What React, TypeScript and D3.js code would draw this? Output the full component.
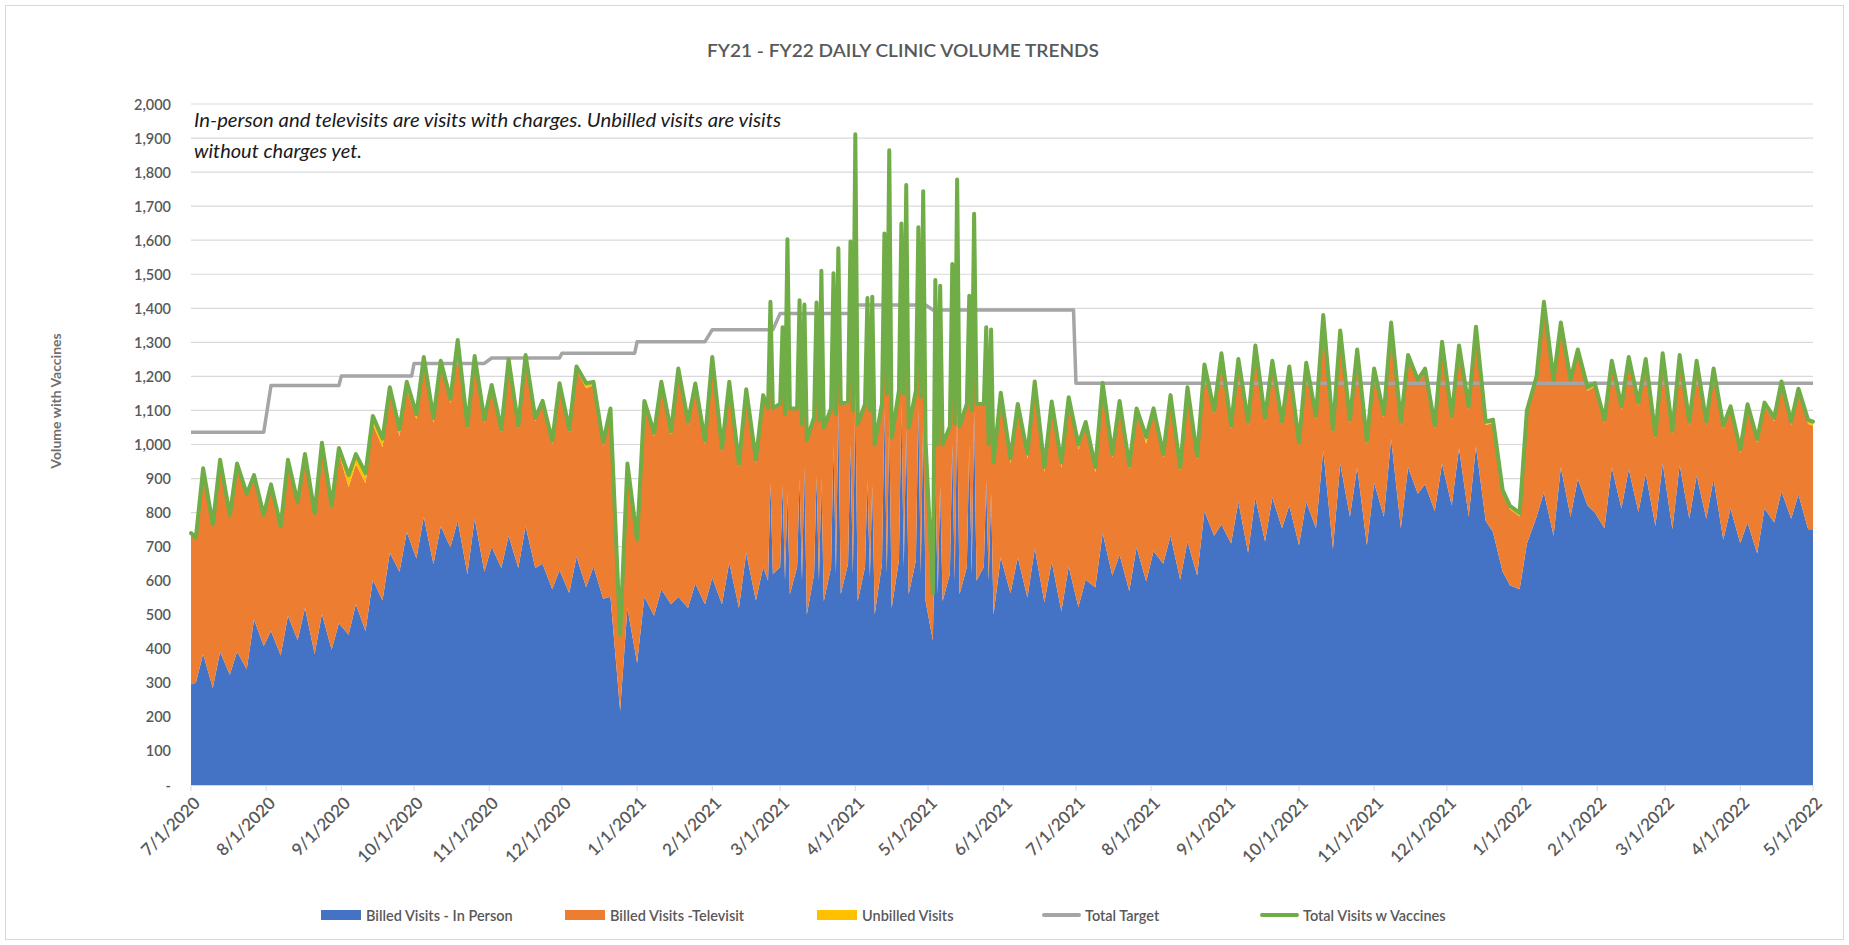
import { useEffect, useRef } from "react";
import * as d3 from "d3";

const W = 1849;
const H = 945;
const START = new Date(2020, 6, 1);
const END = new Date(2022, 4, 1);

// business days (offset from 7/1/2020): Mon peaks / Fri dips,
// plus the Tue/Thu vaccine clinic days of Mar-May 2021
const dayOffsets = [
  0, 2, 5, 9, 12, 16, 19, 23, 26, 30, 33, 37, 40, 44, 47, 51, 54, 58, 61, 65, 68, 72, 75, 79,
  82, 86, 89, 93, 96, 100, 103, 107, 110, 114,
  117, 121, 124, 128, 131, 135, 138, 142, 145, 149, 152, 156, 159, 163, 166, 170, 173, 177,
  180, 184, 187, 191, 194, 198, 201, 205, 208, 212, 215, 219, 222, 226, 229, 233, 236,
  238, 239, 240,
  243, 244, 245, 246, 247, 250, 251, 252, 253, 254, 257, 258, 259, 260, 261,
  264, 265, 266, 267, 268, 271, 272, 273, 274, 275, 278, 279, 280, 281, 282,
  285, 286, 287, 288, 289, 292, 293, 294, 295, 296, 299, 300, 301, 302, 303,
  306, 307, 308, 309, 310, 313, 314, 315, 316, 317, 320, 321, 322, 323, 324,
  327, 328, 329, 330, 331,
  334, 338, 341, 345, 348, 352, 355, 359, 362, 366, 369, 373, 376, 380, 383, 387, 390, 394,
  397, 401, 404, 408, 411, 415, 418, 422, 425, 429, 432, 436, 439, 443, 446, 450, 453, 457,
  460, 464, 467, 471, 474, 478, 481, 485, 488, 492, 495, 499, 502, 506, 509, 513, 516, 520,
  523, 527, 530, 534, 537, 541, 544, 548, 551, 555, 558, 562, 565, 569, 572, 576, 579, 583,
  586, 590, 593, 597, 600, 604, 607, 611, 614, 618, 621, 625, 628, 632, 635, 639, 642, 646,
  649, 653, 656, 660, 663, 667, 669,
];

const inPerson = [
  296, 300, 385, 285, 391, 324, 391, 340, 486, 408, 452, 380, 497, 425, 520, 385, 503, 397,
  475, 441, 531, 452, 603, 542, 682, 626, 743, 665, 788, 648, 760, 698, 776, 620,
  782, 626, 700, 637, 732, 637, 760, 637, 650, 575, 631, 564, 670, 581, 642, 547, 553, 218,
  520, 358, 553, 497, 575, 531, 553, 520, 592, 531, 609, 531, 654, 520, 682, 542, 640,
  600, 888, 620,
  640, 881, 600, 860, 560, 640, 900, 600, 934, 500, 620, 907, 600, 900, 540,
  640, 1000, 620, 1106, 560, 650, 1000, 620, 1152, 540, 640, 894, 610, 880, 500,
  650, 1106, 620, 1080, 520, 660, 1119, 640, 1050, 560, 660, 1106, 620, 1080, 540,
  424, 900, 560, 880, 540, 620, 1000, 600, 1100, 560, 640, 1000, 620, 1100, 600,
  640, 894, 600, 860, 500,
  669, 563, 669, 550, 695, 536, 656, 510, 642, 523, 603, 580, 740, 615, 676, 570, 698, 598,
  687, 650, 732, 603, 715, 615, 804, 732, 765, 709, 832, 682, 844, 715, 844, 754, 821, 704,
  832, 754, 983, 693, 944, 788, 933, 704, 888, 788, 1017, 754, 933, 855, 883, 804, 944, 821,
  989, 788, 994, 776, 743, 626, 587, 575, 709, 788, 860, 732, 933, 788, 899, 821, 800, 754,
  933, 812, 927, 802, 914, 761, 945, 751, 940, 782, 909, 782, 899, 720, 812, 710, 771, 680,
  812, 771, 863, 782, 853, 751, 751,
];

const televisit = [
  439, 421, 540, 475, 559, 464, 548, 510, 419, 380, 426, 375, 453, 400, 447, 409, 497, 419,
  500, 434, 411, 434, 456, 450, 466, 399, 421, 409, 454, 415, 474, 424, 521, 426,
  468, 437, 465, 398, 508, 409, 493, 431, 468, 426, 539, 471, 549, 584, 532, 449, 543, 218,
  419, 358, 565, 527, 599, 498, 660, 537, 577, 470, 638, 448, 520, 414, 470, 403, 500,
  501, 337, 481,
  475, 314, 485, 385, 541, 461, 325, 455, 311, 508, 455, 328, 465, 355, 505,
  461, 275, 465, 200, 554, 471, 265, 475, 128, 515, 474, 321, 485, 345, 495,
  465, 141, 525, 175, 495, 494, 136, 505, 195, 485, 494, 139, 515, 167, 460,
  134, 295, 435, 315, 455, 428, 215, 455, 127, 488, 474, 225, 475, 127, 514,
  474, 281, 395, 315, 442,
  468, 382, 435, 408, 475, 383, 455, 422, 482, 462, 448, 339, 431, 347, 442, 359, 398, 404,
  409, 312, 403, 320, 443, 341, 421, 358, 493, 337, 409, 375, 437, 353, 392, 303, 398, 292,
  398, 320, 387, 342, 381, 275, 336, 297, 325, 291, 331, 303, 320, 325, 330, 242, 348, 253,
  292, 314, 342, 281, 320, 230, 223, 214, 381, 402, 549, 448, 415, 392, 370, 337, 370, 309,
  303, 290, 320, 311, 327, 257, 313, 279, 313, 275, 327, 275, 314, 326, 290, 265, 337, 326,
  301, 297, 312, 275, 301, 309, 304,
];

const unbilled = [
  5, 5, 5, 5, 5, 5, 5, 5, 5, 5, 5, 5, 5, 5, 5, 5, 5, 5,
  15, 35, 30, 30, 25, 25, 20, 20, 20, 15, 15, 15, 12, 12, 10, 10,
  10, 10, 10, 10, 10, 10, 10, 10, 10, 10, 10, 10, 10, 15, 10, 10, 10, 5,
  5, 5, 10, 10, 10, 10, 10, 10, 10, 10, 10, 10, 10, 10, 10, 10, 5,
  5, 5, 5,
  5, 5, 5, 5, 5, 5, 5, 5, 5, 5, 5, 5, 5, 5, 5,
  5, 5, 5, 5, 5, 5, 5, 5, 5, 5, 5, 5, 5, 5, 5,
  5, 5, 5, 5, 5, 5, 5, 5, 5, 5, 5, 5, 5, 5, 5,
  5, 5, 5, 5, 5, 5, 5, 5, 5, 5, 5, 5, 5, 5, 5,
  5, 5, 5, 5, 5,
  15, 15, 15, 15, 15, 15, 15, 15, 15, 15, 15, 15, 10, 10, 10, 10, 10, 20,
  10, 10, 10, 10, 10, 10, 10, 10, 10, 10, 10, 10, 10, 10, 10, 10, 10, 10,
  10, 10, 10, 10, 10, 10, 10, 10, 10, 10, 10, 10, 10, 10, 10, 10, 10, 10,
  10, 10, 10, 10, 10, 10, 10, 10, 10, 10, 10, 10, 10, 10, 10, 10, 10, 10,
  10, 10, 10, 10, 10, 10, 10, 10, 10, 10, 10, 10, 10, 10, 10, 10, 10, 10,
  10, 10, 10, 10, 10, 12, 12,
];

const totalWithVaccines = [
  740, 726, 930, 765, 955, 793, 944, 855, 910, 793, 883, 760, 955, 830, 972, 799, 1005, 821,
  990, 910, 972, 916, 1084, 1017, 1168, 1045, 1184, 1089, 1257, 1078, 1246, 1134, 1307, 1056,
  1260, 1073, 1175, 1045, 1250, 1056, 1263, 1078, 1128, 1011, 1180, 1045, 1229, 1180, 1184,
  1006, 1106, 441, 944, 721, 1128, 1034, 1184, 1039, 1223, 1067, 1179, 1011, 1257, 989, 1184,
  944, 1162, 955, 1145,
  1106, 1419, 1106,
  1120, 1344, 1090, 1603, 1106, 1106, 1424, 1060, 1411, 1013, 1080, 1417, 1070, 1510, 1050,
  1106, 1503, 1090, 1576, 1119, 1126, 1596, 1100, 1911, 1060, 1119, 1430, 1100, 1434, 1000,
  1120, 1620, 1150, 1864, 1020, 1159, 1649, 1150, 1762, 1050, 1159, 1638, 1140, 1744, 1005,
  563, 1483, 1000, 1466, 1000, 1053, 1530, 1060, 1778, 1053, 1119, 1437, 1100, 1678, 1119,
  1119, 1344, 1000, 1338, 947,
  1152, 960, 1119, 973, 1185, 934, 1126, 947, 1139, 1000, 1066, 934, 1181, 972, 1128, 939,
  1106, 1022, 1106, 972, 1145, 933, 1168, 966, 1235, 1100, 1268, 1056, 1251, 1067, 1291, 1078,
  1246, 1067, 1229, 1006, 1240, 1084, 1380, 1045, 1335, 1073, 1279, 1011, 1223, 1089, 1358,
  1067, 1263, 1190, 1223, 1056, 1302, 1084, 1291, 1112, 1346, 1067, 1073, 866, 820, 799, 1100,
  1200, 1419, 1190, 1358, 1190, 1279, 1168, 1180, 1073, 1246, 1112, 1257, 1123, 1251, 1028,
  1268, 1040, 1263, 1067, 1246, 1067, 1223, 1056, 1112, 985, 1118, 1016, 1123, 1078, 1185,
  1067, 1164, 1072, 1067,
];

// monthly clinic target
const targetMonths = [
  "2020-07", "2020-08", "2020-09", "2020-10", "2020-11", "2020-12", "2021-01", "2021-02",
  "2021-03", "2021-04", "2021-05", "2021-06", "2021-07", "2021-08", "2021-09", "2021-10",
  "2021-11", "2021-12", "2022-01", "2022-02", "2022-03", "2022-04",
];
const targetValues = [
  1036, 1173, 1201, 1238, 1254, 1268, 1302, 1337, 1385, 1410, 1395, 1395,
  1180, 1180, 1180, 1180, 1180, 1180, 1180, 1180, 1180, 1180,
];

const legendItems = [
  { name: "Billed Visits - In Person", color: "#4472C4", kind: "rect", x: 321 },
  { name: "Billed Visits -Televisit", color: "#ED7D31", kind: "rect", x: 565 },
  { name: "Unbilled Visits", color: "#FFC000", kind: "rect", x: 817 },
  { name: "Total Target", color: "#A5A5A5", kind: "line", x: 1044 },
  { name: "Total Visits w Vaccines", color: "#70AD47", kind: "line", x: 1262 },
];

const FONT = "Lato, 'Open Sans', sans-serif";
const TEXT = "#595959";

export default function App() {
  const svgRef = useRef<SVGSVGElement>(null);

  useEffect(() => {
    if (!svgRef.current) return;
    const svg = d3.select(svgRef.current);
    svg.selectAll("*").remove();

    const plot = { left: 191, right: 1813, top: 104, bottom: 785 };
    const x = d3.scaleTime().domain([START, END]).range([plot.left, plot.right]);
    const y = d3.scaleLinear().domain([0, 2000]).range([plot.bottom, plot.top]);

    svg.append("rect").attr("width", W).attr("height", H).attr("fill", "#fff");
    svg.append("rect")
      .attr("x", 5.5).attr("y", 5.5)
      .attr("width", W - 11).attr("height", H - 11)
      .attr("fill", "none").attr("stroke", "#d9d9d9");

    // title
    svg.append("text")
      .attr("x", 903).attr("y", 50)
      .attr("text-anchor", "middle").attr("dominant-baseline", "central")
      .style("font-family", FONT).style("font-size", "17px").style("font-weight", 600)
      .style("fill", TEXT)
      .attr("textLength", 392).attr("lengthAdjust", "spacingAndGlyphs")
      .text("FY21 - FY22 DAILY CLINIC VOLUME TRENDS");

    // grid + y labels
    const yTicks = y.ticks(20);
    svg.append("g").selectAll("line")
      .data(yTicks.filter(d => d > 0))
      .join("line")
      .attr("x1", plot.left).attr("x2", plot.right)
      .attr("y1", d => y(d)).attr("y2", d => y(d))
      .attr("stroke", "#d9d9d9").attr("stroke-width", 1.2);

    svg.append("g").selectAll("text")
      .data(yTicks)
      .join("text")
      .attr("x", 171).attr("y", d => y(d))
      .attr("text-anchor", "end").attr("dominant-baseline", "central")
      .style("font-family", FONT).style("font-size", "14.5px").style("font-weight", 600)
      .style("fill", TEXT)
      .text(d => (d === 0 ? "-" : d3.format(",")(d)));

    svg.append("text")
      .attr("transform", "translate(55,401) rotate(-90)")
      .attr("text-anchor", "middle").attr("dominant-baseline", "central")
      .style("font-family", FONT).style("font-size", "14px").style("font-weight", "bold")
      .style("fill", "#6f6f6f")
      .text("Volume with Vaccines");

    // stacked areas
    const rows = dayOffsets.map((d, i) => ({
      date: d3.timeDay.offset(START, d),
      inPerson: inPerson[i],
      televisit: televisit[i],
      unbilled: unbilled[i],
      total: totalWithVaccines[i],
    }));
    const keys = ["inPerson", "televisit", "unbilled"];
    const colors = ["#4472C4", "#ED7D31", "#FFC000"];
    const series = d3.stack<any>().keys(keys)(rows);
    const area = d3.area<any>()
      .x(d => x(d.data.date))
      .y0(d => y(d[0]))
      .y1(d => y(d[1]));

    svg.append("g").selectAll("path")
      .data(series)
      .join("path")
      .attr("d", area as any)
      .attr("fill", (_, i) => colors[i]);

    // x axis
    svg.append("line")
      .attr("x1", plot.left).attr("x2", plot.right)
      .attr("y1", plot.bottom + 0.5).attr("y2", plot.bottom + 0.5)
      .attr("stroke", "#d9d9d9").attr("stroke-width", 1.2);

    const months = d3.timeMonth.range(START, d3.timeDay.offset(END, 1));
    const fmt = d3.timeFormat("%-m/%-d/%Y");
    svg.append("g").selectAll("line")
      .data(months)
      .join("line")
      .attr("x1", d => x(d)).attr("x2", d => x(d))
      .attr("y1", plot.bottom).attr("y2", plot.bottom + 6)
      .attr("stroke", "#d9d9d9");

    svg.append("g").selectAll("text")
      .data(months)
      .join("text")
      .attr("transform", d => `translate(${x(d) + 6},${plot.bottom + 15}) rotate(-45)`)
      .attr("text-anchor", "end").attr("dy", "0.35em")
      .style("font-family", FONT).style("font-size", "17px").style("font-weight", 600)
      .style("fill", TEXT)
      .text(d => fmt(d));

    // target line: flat over each month's business days
    const parseMonth = d3.timeParse("%Y-%m");
    const isWeekend = (d: Date) => d.getDay() === 0 || d.getDay() === 6;
    const targetPts: { date: Date; v: number }[] = [];
    targetMonths.forEach((m, i) => {
      const ms = parseMonth(m) as Date;
      let s = ms;
      while (isWeekend(s)) s = d3.timeDay.offset(s, 1);
      let e = d3.timeDay.offset(d3.timeMonth.offset(ms, 1), -1);
      while (isWeekend(e)) e = d3.timeDay.offset(e, -1);
      if (i === targetMonths.length - 1) e = END;
      targetPts.push({ date: s, v: targetValues[i] });
      targetPts.push({ date: e, v: targetValues[i] });
    });

    const line = d3.line<{ date: Date; v: number }>()
      .x(d => x(d.date))
      .y(d => y(d.v));

    svg.append("path")
      .datum(targetPts)
      .attr("d", line)
      .attr("fill", "none")
      .attr("stroke", "#A5A5A5").attr("stroke-width", 3.5)
      .attr("stroke-linejoin", "round");

    svg.append("path")
      .datum(rows.map(r => ({ date: r.date, v: r.total })))
      .attr("d", line)
      .attr("fill", "none")
      .attr("stroke", "#70AD47").attr("stroke-width", 4)
      .attr("stroke-linejoin", "round").attr("stroke-linecap", "round");

    // note
    const note = svg.append("g")
      .style("font-family", FONT).style("font-size", "20px")
      .style("font-style", "italic").style("fill", "#1a1a1a");
    note.append("text")
      .attr("x", 194).attr("y", 119).attr("dominant-baseline", "central")
      .attr("textLength", 587).attr("lengthAdjust", "spacingAndGlyphs")
      .text("In-person and televisits are visits with charges. Unbilled visits are visits");
    note.append("text")
      .attr("x", 194).attr("y", 150).attr("dominant-baseline", "central")
      .text("without charges yet.");

    // legend
    const lg = svg.append("g").selectAll("g")
      .data(legendItems)
      .join("g")
      .attr("transform", d => `translate(${d.x},915)`);
    lg.filter(d => d.kind === "rect").append("rect")
      .attr("x", 0).attr("y", -5).attr("width", 40).attr("height", 10)
      .attr("fill", d => d.color);
    lg.filter(d => d.kind === "line").append("line")
      .attr("x1", 0).attr("x2", 35).attr("y1", 0).attr("y2", 0)
      .attr("stroke", d => d.color).attr("stroke-width", 4)
      .attr("stroke-linecap", "round");
    lg.append("text")
      .attr("x", d => (d.kind === "rect" ? 45 : 41))
      .attr("y", 0).attr("dominant-baseline", "central")
      .style("font-family", FONT).style("font-size", "14.5px").style("font-weight", 600)
      .style("fill", TEXT)
      .text(d => d.name);
  }, []);

  return (
    <svg
      ref={svgRef}
      width={W}
      height={H}
      style={{ position: "absolute", left: 0, top: 0, display: "block" }}
    />
  );
}
